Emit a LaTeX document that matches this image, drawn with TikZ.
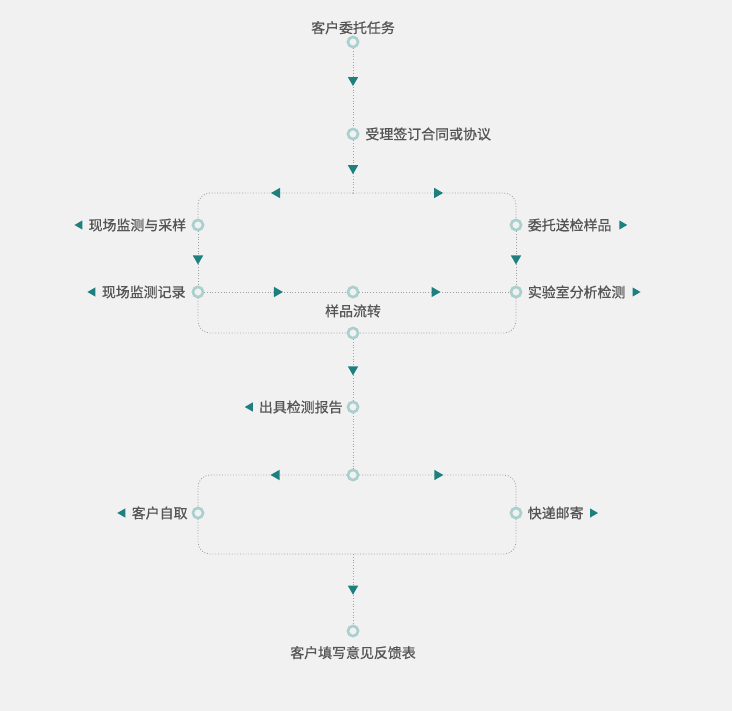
\documentclass[tikz,border=0pt]{standalone}
\usepackage{fontspec}
\setmainfont{Noto Sans CJK SC}[FakeBold=0.7]
\usetikzlibrary{positioning,shapes.geometric}
\definecolor{bg}{HTML}{F1F1F1}
\definecolor{ring}{HTML}{A9CFCF}
\definecolor{tip}{HTML}{1E7F7F}
\definecolor{txt}{HTML}{555555}
\definecolor{dots}{HTML}{A0A0A0}

\begin{document}
\begin{tikzpicture}[x=0.03cm,y=-0.03cm,
    every node/.style={inner sep=0pt,text=txt,font=\fontsize{11.9}{14}\selectfont},
    stop/.style={circle,draw=ring,line width=2.1pt,fill=bg,minimum size=0.3cm},
    dline/.style={draw=dots,line width=0.75pt,dash pattern=on 0.75pt off 1.6pt},
    tri/.style={regular polygon,regular polygon sides=3,fill=tip,draw=none,sharp corners,minimum size=0.36cm},
    tridown/.style={tri,shape border rotate=180},
    trileft/.style={tri,shape border rotate=90},
    triright/.style={tri,shape border rotate=270},
    pleft/.style={trileft,minimum size=0.32cm},
    pright/.style={triright,minimum size=0.32cm}]
    \fill[bg] (0,0) rectangle (732,711);
    \useasboundingbox (0,0) rectangle (732,711);
    % where the stops sit
    \coordinate (b1n) at (353,193);
    \coordinate (b2s) at (353,554);
    \node[stop] (task) at (353,42) {};
    \node[stop] (accept) at (353,134) {};
    \node[stop] (sample) at (198,225) {};
    \node[stop] (send) at (516,225) {};
    \node[stop] (record) at (198,292) {};
    \node[stop] (flow) at (353,292) {};
    \node[stop] (lab) at (516,292) {};
    \node[stop] (merge) at (353,333) {};
    \node[stop] (report) at (353,407) {};
    \node[stop] (split) at (353,475) {};
    \node[stop] (pickup) at (198,513) {};
    \node[stop] (post) at (516,513) {};
    \node[stop] (feedback) at (353,631) {};
    % connectors
    \draw[dline] (task) -- node[tridown,pos=.40] {} (accept);
    \draw[dline] (accept) -- node[tridown,pos=.53] {} (b1n);
    \draw[dline,rounded corners=0.36cm] (b1n) -| node[trileft,pos=.245] {} (sample);
    \draw[dline,rounded corners=0.36cm] (b1n) -| node[triright,pos=.258] {} (send);
    \draw[dline] (sample) -- node[tridown,pos=.5] {} (record);
    \draw[dline] (send) -- node[tridown,pos=.5] {} (lab);
    \draw[dline] (record) -- node[triright,pos=.51] {} (flow);
    \draw[dline] (flow) -- node[triright,pos=.5] {} (lab);
    \draw[dline,rounded corners=0.36cm] (record) |- (merge);
    \draw[dline,rounded corners=0.36cm] (lab) |- (merge);
    \draw[dline] (merge) -- node[tridown,pos=.49] {} (report);
    \draw[dline] (report) -- (split);
    \draw[dline,rounded corners=0.36cm] (split) -| node[trileft,pos=.236] {} (pickup);
    \draw[dline,rounded corners=0.36cm] (split) -| node[triright,pos=.249] {} (post);
    \draw[dline,rounded corners=0.36cm] (pickup) |- (b2s);
    \draw[dline,rounded corners=0.36cm] (post) |- (b2s);
    \draw[dline] (b2s) -- node[tridown,pos=.49] {} (feedback);
    % stops again over the lines
    \foreach \s in {task,accept,sample,send,record,flow,lab,merge,report,split,pickup,post,feedback}
        \node[stop] at (\s) {};
    % labels
    \node[above=0.04cm of task] (taskL) {客户委托任务};
    \node[right=0.18cm of accept] (acceptL) {受理签订合同或协议};
    \node[left=0.16cm of sample] (sampleL) {现场监测与采样};
    \node[pleft,left=0.17cm of sampleL] {};
    \node[right=0.16cm of send] (sendL) {委托送检样品};
    \node[pright,right=0.22cm of sendL] {};
    \node[left=0.18cm of record] (recordL) {现场监测记录};
    \node[pleft,left=0.18cm of recordL] {};
    \node[below=0.18cm of flow] (flowL) {样品流转};
    \node[right=0.16cm of lab] (labL) {实验室分析检测};
    \node[pright,right=0.2cm of labL] {};
    \node[left=0.12cm of report] (reportL) {出具检测报告};
    \node[pleft,left=0.17cm of reportL] {};
    \node[left=0.12cm of pickup] (pickupL) {客户自取};
    \node[pleft,left=0.18cm of pickupL] {};
    \node[right=0.16cm of post] (postL) {快递邮寄};
    \node[pright,right=0.18cm of postL] {};
    \node[below=0.26cm of feedback] (feedbackL) {客户填写意见反馈表};
\end{tikzpicture}
\end{document}
